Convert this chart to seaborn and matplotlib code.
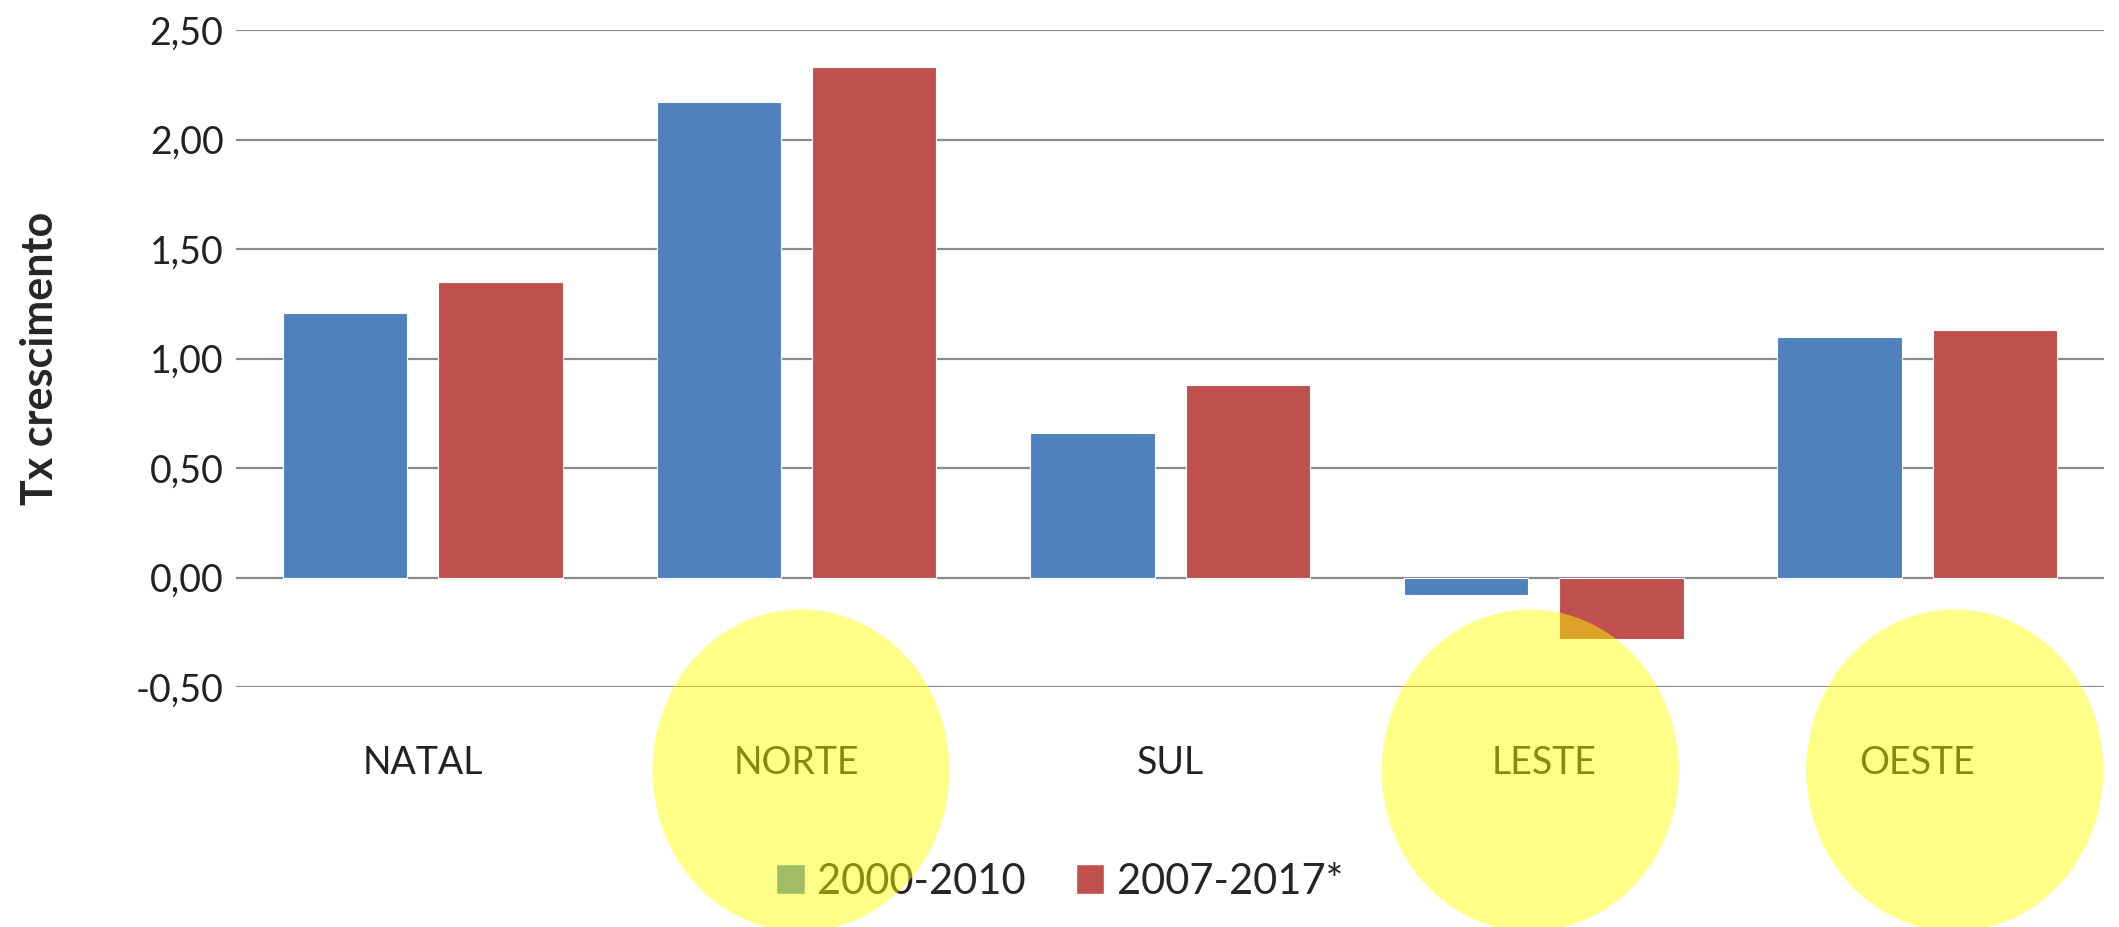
import seaborn as sns
import matplotlib.pyplot as plt
import matplotlib.transforms as mtransforms
from matplotlib.patches import Ellipse, Patch
import pandas as pd

regioes = ['NATAL', 'NORTE', 'SUL', 'LESTE', 'OESTE']
tx_2000_2010 = [1.21, 2.17, 0.66, -0.08, 1.10]
tx_2007_2017 = [1.35, 2.33, 0.88, -0.28, 1.13]
periodos = ['2000-2010', '2007-2017*']
yticks = [-0.5, 0.0, 0.5, 1.0, 1.5, 2.0, 2.5]
destaques = ['NORTE', 'LESTE', 'OESTE']

azul = '#4F81BD'
vermelho = '#C0504D'

df = pd.DataFrame({
    'regiao': regioes * 2,
    'taxa': tx_2000_2010 + tx_2007_2017,
    'periodo': [periodos[0]] * len(regioes) + [periodos[1]] * len(regioes),
})

sns.set_style('white')
plt.rcParams['font.family'] = ['Lato', 'DejaVu Sans']

fig = plt.figure(figsize=(21.19, 9.27), dpi=100)
ax = fig.add_axes([0.1114, 0.2589, 0.8816, 0.7087])

sns.barplot(data=df, x='regiao', y='taxa', hue='periodo', order=regioes,
            palette=[azul, vermelho], saturation=1, width=0.832, gap=0.2,
            edgecolor='white', linewidth=0.8, ax=ax, legend=False)

ax.set_xlim(-0.5, len(regioes) - 0.5)
ax.set_ylim(yticks[0], yticks[-1])
ax.set_yticks(yticks)
ax.set_yticklabels([f'{v:.2f}'.replace('.', ',') for v in yticks], fontsize=27, color='#222222')
ax.tick_params(axis='y', length=0, pad=9)
ax.tick_params(axis='x', length=0, pad=42, labelsize=27, labelcolor='#222222')
ax.set_xlabel('')
ax.set_ylabel('Tx crescimento', fontsize=31, fontweight='bold')
ax.yaxis.set_label_coords(-0.094, 0.5)
ax.set_axisbelow(True)
ax.yaxis.grid(True, color='#8a8a8a', linewidth=1.6)
for s in ax.spines.values():
    s.set_visible(False)

handles = [Patch(facecolor=azul, label=periodos[0]),
           Patch(facecolor=vermelho, label=periodos[1])]
fig.legend(handles=handles, loc='center', bbox_to_anchor=(0.5, 0.049), ncol=2,
           frameon=False, fontsize=30, handlelength=0.68, handleheight=0.75,
           handletextpad=0.3, columnspacing=1.2)

# yellow highlight circles
trans = mtransforms.blended_transform_factory(ax.transData, fig.transFigure)
desloc = {'NORTE': 0.012, 'LESTE': -0.036, 'OESTE': 0.10}
for r in destaques:
    x = regioes.index(r) + desloc[r]
    fig.add_artist(Ellipse((x, 0.169), 0.795, 0.347, transform=trans,
                           facecolor=(1, 1, 0, 0.47), edgecolor='none', zorder=10))

plt.savefig('out.png', dpi=100)
plt.close()
